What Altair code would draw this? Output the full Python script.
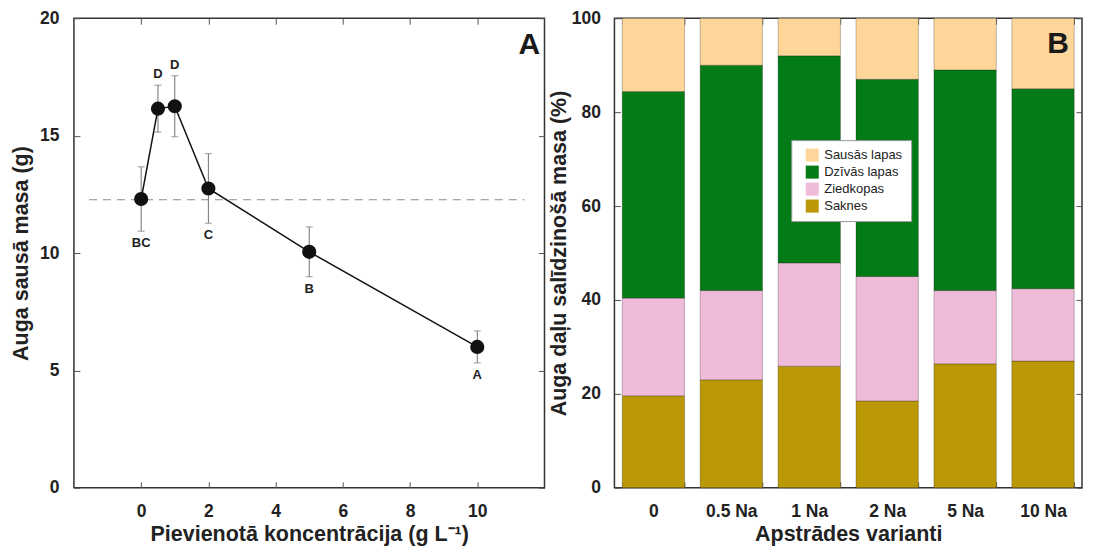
import altair as alt
import pandas as pd

# ---------- Panel A data ----------
conc = [0, 0.5, 1, 2, 5, 10]
mass = [12.3, 16.15, 16.25, 12.75, 10.05, 6.0]
err = [1.37, 1.0, 1.3, 1.48, 1.06, 0.68]
letters = ["BC", "D", "D", "C", "B", "A"]
letter_side = ["below", "above", "above", "below", "below", "below"]
control_mass = [12.27]
dash_from = [-1.55]
dash_to = [11.4]
x_ticks_a = [0, 2, 4, 6, 8, 10]
y_ticks_a = [0, 5, 10, 15, 20]
panel_a_label = ["A"]
panel_a_pos = [(11.55, 18.85)]

# ---------- Panel B data ----------
treatments = ["0", "0.5 Na", "1 Na", "2 Na", "5 Na", "10 Na"]
parts = ["Sausās lapas", "Dzīvās lapas", "Ziedkopas", "Saknes"]
part_colors = ["#FED69A", "#037B17", "#EEBCD8", "#BB9906"]
saknes = [19.6, 23.0, 25.9, 18.5, 26.4, 27.0]
ziedkopas = [20.8, 19.0, 22.0, 26.5, 15.6, 15.4]
dzivas_lapas = [44.0, 48.0, 44.1, 42.0, 47.0, 42.6]
sausas_lapas = [15.6, 10.0, 8.0, 13.0, 11.0, 15.0]
y_ticks_b = [0, 20, 40, 60, 80, 100]
panel_b_label = ["B"]
panel_b_pos = [("10 Na", 94.5)]

FONT = "Liberation Sans"
W_A, H = 471, 470
W_B = 468

# ---------- Panel A ----------
df_a = pd.DataFrame({"conc": conc, "mass": mass, "err": err,
                     "letter": letters, "side": letter_side})
df_a["lo"] = df_a["mass"] - df_a["err"]
df_a["hi"] = df_a["mass"] + df_a["err"]
df_dash = pd.DataFrame({"x": dash_from, "x2": dash_to, "y": control_mass})
df_alab = pd.DataFrame({"t": panel_a_label, "x": [p[0] for p in panel_a_pos],
                        "y": [p[1] for p in panel_a_pos]})

xs = alt.Scale(domain=[-2, 12], nice=False, zero=False)
ys = alt.Scale(domain=[0, 20], nice=False)

x_main = alt.Axis(values=x_ticks_a, title="Pievienotā koncentrācija (g L⁻¹)",
                  orient="bottom", offset=-6, tickSize=6, labelPadding=15,
                  titlePadding=3, domain=False, grid=False)
y_main = alt.Axis(values=y_ticks_a, title="Auga sausā masa (g)",
                  orient="left", offset=-6, tickSize=6, labelPadding=15,
                  titlePadding=7, domain=False, grid=False)
x_mirror = alt.Axis(values=x_ticks_a, title=None, labels=False, orient="top",
                    offset=-6, tickSize=6, domain=False, grid=False)
y_mirror = alt.Axis(values=y_ticks_a, title=None, labels=False, orient="right",
                    offset=-6, tickSize=6, domain=False, grid=False)

base_a = alt.Chart(df_a)

dash = alt.Chart(df_dash).mark_rule(color="#8a8a8a", strokeWidth=1.2,
                                    strokeDash=[8, 6]).encode(
    x=alt.X("x:Q", scale=xs, axis=None),
    x2="x2:Q",
    y=alt.Y("y:Q", scale=ys, axis=None),
)
ebar = base_a.mark_rule(color="#6f6f6f", strokeWidth=1).encode(
    x=alt.X("conc:Q", scale=xs, axis=None),
    y=alt.Y("lo:Q", scale=ys, axis=None),
    y2="hi:Q",
)
cap_lo = base_a.mark_tick(color="#6f6f6f", orient="horizontal", size=7,
                          thickness=1).encode(
    x=alt.X("conc:Q", scale=xs, axis=None),
    y=alt.Y("lo:Q", scale=ys, axis=None),
)
cap_hi = base_a.mark_tick(color="#6f6f6f", orient="horizontal", size=7,
                          thickness=1).encode(
    x=alt.X("conc:Q", scale=xs, axis=None),
    y=alt.Y("hi:Q", scale=ys, axis=None),
)
line = base_a.mark_line(color="#111111", strokeWidth=1.5).encode(
    x=alt.X("conc:Q", scale=xs, axis=x_mirror),
    y=alt.Y("mass:Q", scale=ys, axis=y_mirror),
)
pts = base_a.mark_circle(color="#111111", size=200, opacity=1).encode(
    x=alt.X("conc:Q", scale=xs, axis=x_main),
    y=alt.Y("mass:Q", scale=ys, axis=y_main),
)
txt_below = base_a.transform_filter(alt.datum.side == "below").mark_text(
    font=FONT, fontSize=13, fontWeight="bold", color="#222222",
    baseline="middle", dy=12).encode(
    x=alt.X("conc:Q", scale=xs, axis=None),
    y=alt.Y("lo:Q", scale=ys, axis=None),
    text="letter:N",
)
txt_above = base_a.transform_filter(alt.datum.side == "above").mark_text(
    font=FONT, fontSize=13, fontWeight="bold", color="#222222",
    baseline="middle", dy=-11).encode(
    x=alt.X("conc:Q", scale=xs, axis=None),
    y=alt.Y("hi:Q", scale=ys, axis=None),
    text="letter:N",
)
alab = alt.Chart(df_alab).mark_text(font=FONT, fontSize=30, fontWeight="bold",
                                    color="#1a1a1a", baseline="middle").encode(
    x=alt.X("x:Q", scale=xs, axis=None),
    y=alt.Y("y:Q", scale=ys, axis=None),
    text="t:N",
)

panel_a = alt.layer(dash, ebar, cap_lo, cap_hi, line, pts, txt_below,
                    txt_above, alab).resolve_axis(
    x="independent", y="independent").properties(width=W_A, height=H)

# ---------- Panel B ----------
rows = []
shares = {"Saknes": saknes, "Ziedkopas": ziedkopas,
          "Dzīvās lapas": dzivas_lapas, "Sausās lapas": sausas_lapas}
stack_order = {"Saknes": 0, "Ziedkopas": 1, "Dzīvās lapas": 2, "Sausās lapas": 3}
for p, vals in shares.items():
    for t, v in zip(treatments, vals):
        rows.append({"treatment": t, "part": p, "value": v, "ord": stack_order[p]})
df_b = pd.DataFrame(rows)
df_blab = pd.DataFrame({"t": panel_b_label, "x": [p[0] for p in panel_b_pos],
                        "y": [p[1] for p in panel_b_pos]})

xb = alt.Scale(domain=treatments, paddingInner=0.2, paddingOuter=0.1)
yb = alt.Scale(domain=[0, 100], nice=False)

xb_main = alt.Axis(title="Apstrādes varianti", orient="bottom", labelAngle=0,
                   tickBand="extent", offset=-6, tickSize=6, labelPadding=15,
                   titlePadding=3, domain=False, grid=False)
yb_main = alt.Axis(values=y_ticks_b, title="Auga daļu salīdzinošā masa (%)",
                   orient="left", offset=-6, tickSize=6, labelPadding=14,
                   titlePadding=1, domain=False, grid=False)
xb_mirror = alt.Axis(title=None, labels=False, orient="top", tickBand="extent",
                     offset=-6, tickSize=6, domain=False, grid=False)
yb_mirror = alt.Axis(values=y_ticks_b, title=None, labels=False, orient="right",
                     offset=-6, tickSize=6, domain=False, grid=False)

bars = alt.Chart(df_b).mark_bar(stroke="#000000", strokeOpacity=0.25,
                                strokeWidth=1).encode(
    x=alt.X("treatment:N", sort=treatments, scale=xb, axis=xb_main),
    y=alt.Y("value:Q", stack="zero", scale=yb, axis=yb_main),
    color=alt.Color("part:N", scale=alt.Scale(domain=parts, range=part_colors),
                    legend=alt.Legend(orient="none", legendX=177, legendY=122,
                                      title=None, fillColor="white",
                                      strokeColor="#9a9a9a", padding=8,
                                      symbolOffset=6,
                                      symbolType="square", symbolSize=170,
                                      symbolStrokeWidth=0, labelFont=FONT,
                                      labelFontSize=13, labelColor="#222222",
                                      labelOffset=5, rowPadding=3)),
    order=alt.Order("ord:Q", sort="ascending"),
)
blab = alt.Chart(df_blab).mark_text(font=FONT, fontSize=30, fontWeight="bold",
                                    color="#1a1a1a", baseline="middle",
                                    dx=15).encode(
    x=alt.X("x:N", sort=treatments, scale=xb, axis=xb_mirror),
    y=alt.Y("y:Q", scale=yb, axis=yb_mirror),
    text="t:N",
)

panel_b = alt.layer(bars, blab).resolve_axis(
    x="independent", y="independent").properties(width=W_B, height=H)

chart = alt.hconcat(panel_a, panel_b, spacing=1).resolve_legend(
    color="independent"
).properties(
    padding={"left": 1, "top": 0, "right": 1, "bottom": 0}
).configure_view(stroke="#333333", strokeWidth=1.5).configure_axis(
    labelFont=FONT, labelFontSize=17.5, labelFontWeight="bold",
    labelColor="#222222", titleFont=FONT, titleFontSize=21.5,
    titleFontWeight="bold", titleColor="#222222", tickColor="#555555",
    tickWidth=1,
)

chart.save("out.html", embed_options={"renderer": "svg", "actions": False})
